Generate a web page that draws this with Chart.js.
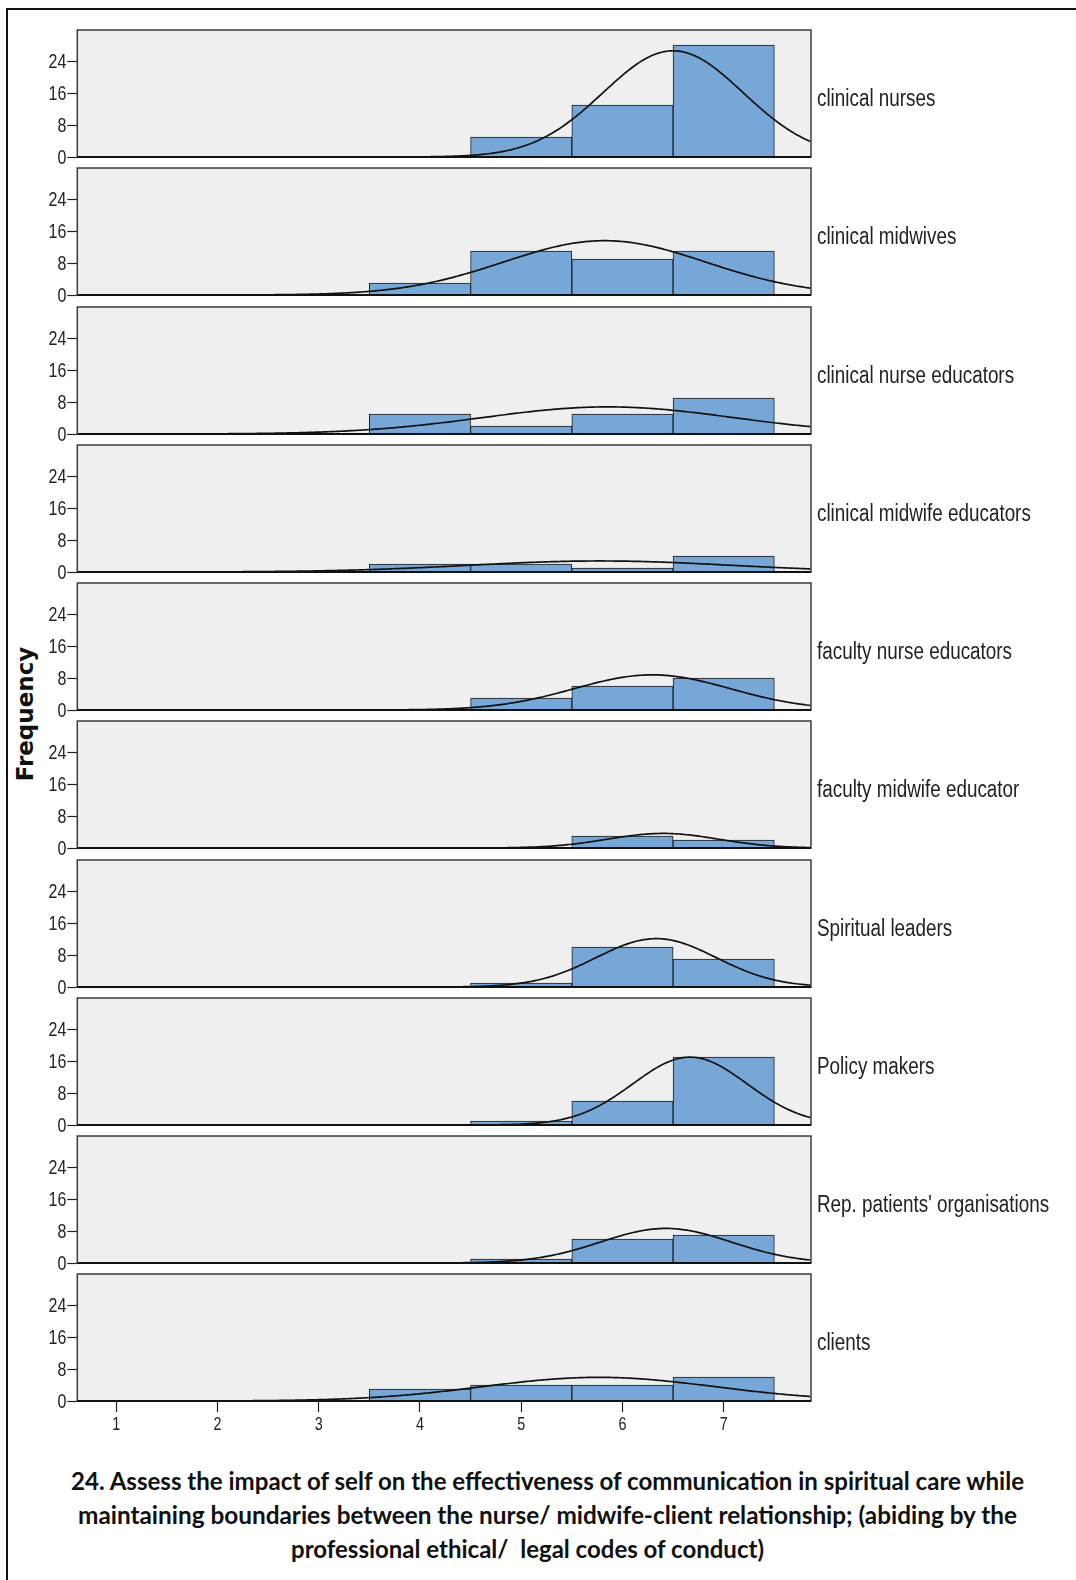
<!DOCTYPE html>
<html>
<head>
<meta charset="utf-8">
<title>Histograms by group</title>
<script src="https://cdn.jsdelivr.net/npm/chart.js@4.4.1/dist/chart.umd.min.js"></script>
<style>
  body { margin: 0; background: #fff; width: 1076px; height: 1580px; overflow: hidden; position: relative; }
  .frame { position: absolute; left: 6px; top: 8px; width: 1100px; height: 1600px; border-left: 2px solid #111; border-top: 2px solid #111; }
  canvas.panel { position: absolute; left: 0; }
  #yTitle { position: absolute; left: 25px; top: 714px; transform: translate(-50%, -50%) rotate(-90deg);
    font: bold 23px "DejaVu Sans", sans-serif; line-height: 23px; white-space: nowrap; color: #111; }
  .title-line { position: absolute; font: bold 25px Lato, "Open Sans", sans-serif; line-height: 34px;
    white-space: pre; color: #111; transform-origin: 0 0; }
</style>
</head>
<body>
<div class="frame"></div>
<div id="yTitle">Frequency</div>

<script>
// score categories (histogram bins centred on 1..7) and y ticks
const scoreValues = [1, 2, 3, 4, 5, 6, 7];
const yTickValues = [0, 8, 16, 24];

const groupLabels = [
  "clinical nurses",
  "clinical midwives",
  "clinical nurse educators",
  "clinical midwife educators",
  "faculty nurse educators",
  "faculty midwife educator",
  "Spiritual leaders",
  "Policy makers",
  "Rep. patients' organisations",
  "clients",
];

// frequency per score, one array per group
const clinicalNurses = [0, 0, 0, 0, 5, 13, 28];
const clinicalMidwives = [0, 0, 0, 3, 11, 9, 11];
const clinicalNurseEducators = [0, 0, 0, 5, 2, 5, 9];
const clinicalMidwifeEducators = [0, 0, 0, 2, 2, 1, 4];
const facultyNurseEducators = [0, 0, 0, 0, 3, 6, 8];
const facultyMidwifeEducator = [0, 0, 0, 0, 0, 3, 2];
const spiritualLeaders = [0, 0, 0, 0, 1, 10, 7];
const policyMakers = [0, 0, 0, 0, 1, 6, 17];
const repPatientsOrgs = [0, 0, 0, 0, 1, 6, 7];
const clients = [0, 0, 0, 3, 4, 4, 6];

const groupCounts = [
  clinicalNurses, clinicalMidwives, clinicalNurseEducators, clinicalMidwifeEducators,
  facultyNurseEducators, facultyMidwifeEducator, spiritualLeaders, policyMakers,
  repPatientsOrgs, clients,
];

const titleLines = [
  "24. Assess the impact of self on the effectiveness of communication in spiritual care while",
  "maintaining boundaries between the nurse/ midwife-client relationship; (abiding by the",
  "professional ethical/  legal codes of conduct)",
];

// axis ranges
const X_MIN = 0.616;
const X_MAX = 7.862;
const Y_MAX = 31.75;

// layout
const PANEL_TOP = 30;
const PANEL_PITCH = 138.26;
const PANEL_H = 127;
const PAD = 15;
const X_AXIS_H = 40;
const Y_AXIS_W = 77.3;
const PLOT_RIGHT = 811;

// Arial metrics squeezed to a narrow face
const FONT = '"Liberation Sans", Arimo, Arial, sans-serif';
const SQUEEZE = 0.82;

function narrowText(ctx, text, x, y, size, align, baseline) {
  ctx.save();
  ctx.font = size + "px " + FONT;
  ctx.fillStyle = "#222";
  ctx.textAlign = align;
  ctx.textBaseline = baseline;
  ctx.translate(x, y);
  ctx.scale(SQUEEZE, 1);
  ctx.fillText(text, 0, 0);
  ctx.restore();
}

// fitted normal curve (mean / sd of the binned scores), scaled to bin counts
function normalCurve(counts) {
  let n = 0, sum = 0, sumSq = 0;
  counts.forEach((c, i) => {
    n += c;
    sum += c * scoreValues[i];
    sumSq += c * scoreValues[i] * scoreValues[i];
  });
  const mean = sum / n;
  const sd = Math.sqrt((sumSq - n * mean * mean) / (n - 1));
  const pts = [];
  for (let x = X_MIN; x <= X_MAX + 1e-9; x += 0.02) {
    const z = (x - mean) / sd;
    pts.push({ x: x, y: (n / (sd * Math.sqrt(2 * Math.PI))) * Math.exp(-0.5 * z * z) });
  }
  return pts;
}

const panelFrame = {
  id: "panelFrame",
  beforeDraw(chart) {
    const { ctx, chartArea: a } = chart;
    ctx.save();
    ctx.fillStyle = "#efefef";
    ctx.fillRect(a.left, a.top, a.right - a.left, a.bottom - a.top);
    ctx.restore();
  },
  afterDatasetsDraw(chart, args, opts) {
    const { ctx, chartArea: a, scales } = chart;
    ctx.save();
    ctx.strokeStyle = "#3c3c3c";
    ctx.lineWidth = 1.5;
    ctx.strokeRect(a.left, a.top, a.right - a.left, a.bottom - a.top);
    ctx.strokeStyle = "#111";
    ctx.lineWidth = 2.2;
    ctx.beginPath();
    ctx.moveTo(a.left, a.bottom);
    ctx.lineTo(a.right, a.bottom);
    ctx.stroke();
    ctx.restore();

    // tick labels
    scales.y.ticks.forEach((t) => {
      const py = scales.y.getPixelForValue(t.value);
      narrowText(ctx, String(t.value), a.left - 11, py + 2, 19.5, "right", "middle");
    });
    if (opts.showX) {
      scales.x.ticks.forEach((t) => {
        const px = scales.x.getPixelForValue(t.value);
        narrowText(ctx, String(t.value), px, a.bottom + 15, 17.5, "center", "top");
      });
    }

    // group label at the right of the panel
    narrowText(ctx, opts.label, a.right + 6, (a.top + a.bottom) / 2 + 12, 23, "left", "alphabetic");
  },
};

function buildPanel(index) {
  const counts = groupCounts[index];
  const isLast = index === groupCounts.length - 1;
  const top = Math.round(PANEL_TOP + index * PANEL_PITCH);

  const canvas = document.createElement("canvas");
  canvas.className = "panel";
  canvas.width = 1076;
  canvas.height = PAD + PANEL_H + (isLast ? X_AXIS_H : PAD);
  canvas.style.top = top - PAD + "px";
  document.body.appendChild(canvas);

  new Chart(canvas, {
    type: "bar",
    data: {
      datasets: [
        {
          type: "line",
          data: normalCurve(counts),
          borderColor: "#111",
          borderWidth: 1.7,
          pointRadius: 0,
          tension: 0,
          order: 0,
        },
        {
          type: "bar",
          data: scoreValues.map((v, i) => ({ x: v, y: counts[i] })),
          backgroundColor: "#76a7d7",
          borderColor: "#1e1e1e",
          borderWidth: 1,
          barPercentage: 1,
          categoryPercentage: 1,
          order: 1,
        },
      ],
    },
    options: {
      responsive: false,
      animation: false,
      events: [],
      layout: { padding: { top: PAD, bottom: isLast ? 0 : PAD, left: 0, right: 1076 - PLOT_RIGHT } },
      plugins: {
        legend: { display: false },
        tooltip: { enabled: false },
        panelFrame: { label: groupLabels[index], showX: isLast },
      },
      scales: {
        x: {
          type: "linear",
          min: X_MIN,
          max: X_MAX,
          offset: false,
          display: isLast,
          afterBuildTicks: (s) => { s.ticks = scoreValues.map((v) => ({ value: v })); },
          afterFit: (s) => { if (isLast) s.height = X_AXIS_H; },
          grid: { drawOnChartArea: false, offset: false, tickLength: 11, color: "#222", tickWidth: 1.2 },
          border: { display: false },
          ticks: { display: false },
        },
        y: {
          min: 0,
          max: Y_MAX,
          afterBuildTicks: (s) => { s.ticks = yTickValues.map((v) => ({ value: v })); },
          afterFit: (s) => { s.width = Y_AXIS_W; },
          grid: { drawOnChartArea: false, tickLength: 10, color: "#222", tickWidth: 1.2 },
          border: { display: false },
          ticks: { display: false },
        },
      },
    },
    plugins: [panelFrame],
  });
}

// title lines squeezed to the measured line widths
function buildTitle() {
  const spots = [
    { left: 71, top: 1463, width: 953 },
    { left: 78, top: 1497, width: 939 },
    { left: 291, top: 1531, width: 473 },
  ];
  titleLines.forEach((text, i) => {
    const el = document.createElement("div");
    el.className = "title-line";
    el.textContent = text;
    el.style.left = spots[i].left + "px";
    el.style.top = spots[i].top + "px";
    document.body.appendChild(el);
    const w = el.getBoundingClientRect().width;
    el.style.transform = "scaleX(" + (spots[i].width / w).toFixed(4) + ")";
  });
}

window.onload = () => {
  groupCounts.forEach((_, i) => buildPanel(i));
  buildTitle();
};
</script>
</body>
</html>
